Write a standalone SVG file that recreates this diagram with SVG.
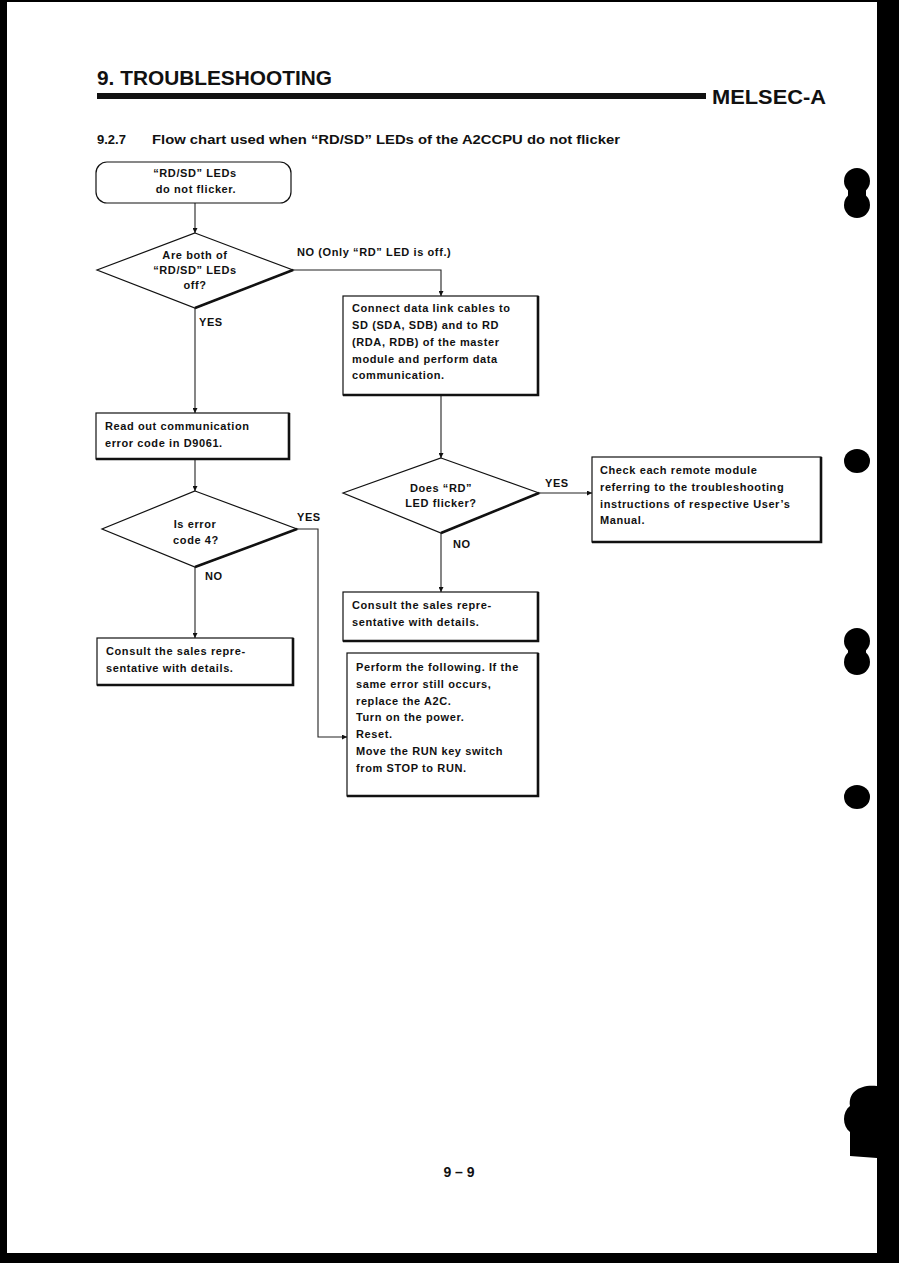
<svg xmlns="http://www.w3.org/2000/svg" width="899" height="1263" viewBox="0 0 899 1263">
<defs>
<style>
.t{font-family:"Liberation Sans",Arial,sans-serif;font-weight:bold;font-size:11px;fill:#111;letter-spacing:0.6px}
.c{text-anchor:middle}
.box{fill:#fff;stroke:#111;stroke-width:1.2}
.sh{fill:none;stroke:#111;stroke-width:2.6}
.ln{fill:none;stroke:#222;stroke-width:1.1}
.blk{fill:#000}
</style>
<marker id="ah" viewBox="0 0 8 8" refX="8" refY="4" markerWidth="5" markerHeight="5" orient="auto" markerUnits="userSpaceOnUse">
<path d="M0,0 L8,4 L0,8 z" fill="#111"/>
</marker>
</defs>
<rect width="899" height="1263" fill="#fff"/>
<!-- scan border -->
<rect class="blk" x="0" y="0" width="899" height="2"/>
<rect class="blk" x="0" y="0" width="7" height="1263"/>
<rect class="blk" x="877" y="0" width="22" height="1263"/>
<rect class="blk" x="0" y="1253" width="899" height="10"/>
<!-- thumb tab marks -->
<g id="tabs" class="blk">
<circle cx="857" cy="181" r="13"/><circle cx="857" cy="205" r="13"/><rect x="848" y="181" width="18" height="24"/>
<ellipse cx="857" cy="461" rx="13" ry="12"/>
<circle cx="857" cy="641" r="13"/><circle cx="857" cy="662" r="13"/><rect x="848" y="641" width="18" height="21"/>
<ellipse cx="857" cy="797" rx="13" ry="12"/>
<path d="M877,1086 C860,1084 848,1092 850,1106 C842,1112 842,1126 850,1132 L850,1156 L877,1158 z"/>
</g>
<!-- header -->
<g id="header">
<text x="97" y="85" font-family="Liberation Sans,Arial,sans-serif" font-weight="bold" font-size="21" textLength="235" lengthAdjust="spacingAndGlyphs" fill="#111">9. TROUBLESHOOTING</text>
<rect x="97" y="93" width="609" height="6" fill="#111"/>
<text x="712" y="104" font-family="Liberation Sans,Arial,sans-serif" font-weight="bold" font-size="21" textLength="114" lengthAdjust="spacingAndGlyphs" fill="#111">MELSEC-A</text>
<text x="97" y="144" font-family="Liberation Sans,Arial,sans-serif" font-weight="bold" font-size="13" fill="#111">9.2.7</text>
<text x="152" y="144" font-family="Liberation Sans,Arial,sans-serif" font-weight="bold" font-size="13" textLength="468" lengthAdjust="spacingAndGlyphs" fill="#111">Flow chart used when “RD/SD” LEDs of the A2CCPU do not flicker</text>
</g>
<!-- connectors -->
<g id="connectors">
<line class="ln" x1="195" y1="203" x2="195" y2="233" marker-end="url(#ah)"/>
<polyline class="ln" points="293,270 441,270 441,296" marker-end="url(#ah)"/>
<line class="ln" x1="195" y1="308" x2="195" y2="413" marker-end="url(#ah)"/>
<line class="ln" x1="441" y1="395" x2="441" y2="458" marker-end="url(#ah)"/>
<line class="ln" x1="195" y1="459" x2="195" y2="491" marker-end="url(#ah)"/>
<line class="ln" x1="539" y1="493" x2="592" y2="493" marker-end="url(#ah)"/>
<line class="ln" x1="441" y1="533" x2="441" y2="592" marker-end="url(#ah)"/>
<line class="ln" x1="195" y1="567" x2="195" y2="638" marker-end="url(#ah)"/>
<polyline class="ln" points="297,529 318,529 318,737 347,737" marker-end="url(#ah)"/>
<text class="t" x="297" y="256">NO (Only “RD” LED is off.)</text>
<text class="t" x="199" y="326">YES</text>
<text class="t" x="545" y="487">YES</text>
<text class="t" x="453" y="548">NO</text>
<text class="t" x="297" y="521">YES</text>
<text class="t" x="205" y="580">NO</text>
</g>
<!-- start -->
<g id="start">
<rect class="box" x="96" y="162" width="195" height="41" rx="11"/>
<text class="t c" x="195" y="177">“RD/SD” LEDs</text>
<text class="t c" x="196" y="193">do not flicker.</text>
</g>
<g id="d1">
<polygon class="box" points="195,233 293,270 195,308 97,270"/>
<line class="sh" x1="293" y1="270" x2="195" y2="308"/>
<text class="t c" x="195" y="259">Are both of</text>
<text class="t c" x="195" y="274">“RD/SD” LEDs</text>
<text class="t c" x="195" y="289">off?</text>
</g>
<g id="b_connect">
<rect class="box" x="343" y="296" width="195" height="99"/>
<polyline class="sh" points="538,296 538,395 343,395"/>
<text class="t" x="352" y="312">Connect data link cables to</text>
<text class="t" x="352" y="329">SD (SDA, SDB) and to RD</text>
<text class="t" x="352" y="346">(RDA, RDB) of the master</text>
<text class="t" x="352" y="363">module and perform data</text>
<text class="t" x="352" y="379">communication.</text>
</g>
<g id="b_read">
<rect class="box" x="96" y="413" width="193" height="46"/>
<polyline class="sh" points="289,413 289,459 96,459"/>
<text class="t" x="105" y="430">Read out communication</text>
<text class="t" x="105" y="447">error code in D9061.</text>
</g>
<g id="d2">
<polygon class="box" points="441,458 539,493 441,533 343,493"/>
<line class="sh" x1="539" y1="493" x2="441" y2="533"/>
<text class="t c" x="441" y="492">Does “RD”</text>
<text class="t c" x="441" y="507">LED flicker?</text>
</g>
<g id="b_check">
<rect class="box" x="592" y="457" width="229" height="85"/>
<polyline class="sh" points="821,457 821,542 592,542"/>
<text class="t" x="600" y="474">Check each remote module</text>
<text class="t" x="600" y="491">referring to the troubleshooting</text>
<text class="t" x="600" y="508">instructions of respective User’s</text>
<text class="t" x="600" y="524">Manual.</text>
</g>
<g id="d3">
<polygon class="box" points="195,491 297,529 195,567 102,529"/>
<line class="sh" x1="297" y1="529" x2="195" y2="567"/>
<text class="t c" x="195" y="528">Is  error</text>
<text class="t c" x="196" y="544">code 4?</text>
</g>
<g id="b_consult1">
<rect class="box" x="343" y="592" width="195" height="49"/>
<polyline class="sh" points="538,592 538,641 343,641"/>
<text class="t" x="352" y="609">Consult the sales repre-</text>
<text class="t" x="352" y="626">sentative with details.</text>
</g>
<g id="b_consult2">
<rect class="box" x="97" y="638" width="196" height="47"/>
<polyline class="sh" points="293,638 293,685 97,685"/>
<text class="t" x="106" y="655">Consult the sales repre-</text>
<text class="t" x="106" y="672">sentative with details.</text>
</g>
<g id="b_perform">
<rect class="box" x="347" y="653" width="191" height="143"/>
<polyline class="sh" points="538,653 538,796 347,796"/>
<text class="t" x="356" y="671">Perform the following. If the</text>
<text class="t" x="356" y="688">same error still occurs,</text>
<text class="t" x="356" y="705">replace the A2C.</text>
<text class="t" x="356" y="721">Turn on the power.</text>
<text class="t" x="356" y="738">Reset.</text>
<text class="t" x="356" y="755">Move the RUN key switch</text>
<text class="t" x="356" y="772">from STOP to RUN.</text>
</g>
<text x="459" y="1177" text-anchor="middle" font-family="Liberation Sans,Arial,sans-serif" font-weight="bold" font-size="14" fill="#111">9 – 9</text>
</svg>
